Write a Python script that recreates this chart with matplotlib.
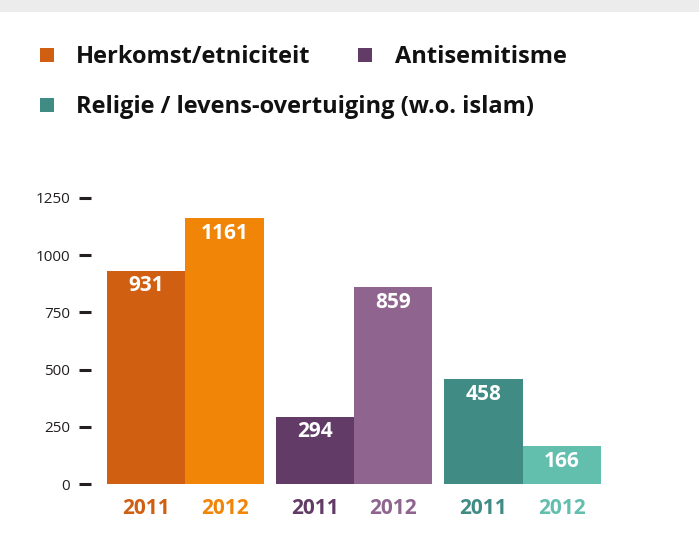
import matplotlib
matplotlib.use("Agg")
import matplotlib.pyplot as plt
from matplotlib.patches import Rectangle

categories = ["Herkomst/etniciteit", "Antisemitisme", "Religie / levens-overtuiging (w.o. islam)"]
years = ["2011", "2012"]
values_2011 = [931, 294, 458]
values_2012 = [1161, 859, 166]
yticks = [0, 250, 500, 750, 1000, 1250]

colors_2011 = ["#D05F12", "#633B67", "#408B84"]
colors_2012 = ["#F08508", "#8F6590", "#62BFAE"]

FONT = "Open Sans"
W, H = 699, 536
fig = plt.figure(figsize=(W / 100, H / 100), dpi=100)
fig.patch.set_facecolor("white")

# top grey band
fig.add_artist(Rectangle((0, 1 - 12 / H), 1, 12 / H, transform=fig.transFigure,
                         facecolor="#ececec", edgecolor="none"))

ax = fig.add_axes([107 / W, (H - 484) / H, (601 - 107) / W, (484 - 198) / H])

group_step = 2.15
xs, vals, cols, labels = [], [], [], []
for g in range(len(categories)):
    for j, (v, c) in enumerate([(values_2011[g], colors_2011[g]), (values_2012[g], colors_2012[g])]):
        xs.append(g * group_step + j)
        vals.append(v)
        cols.append(c)
        labels.append(years[j])

ax.bar(xs, vals, width=1.0, color=cols, edgecolor="none")
for x, v in zip(xs, vals):
    ax.annotate(str(v), (x, v), xytext=(0, -15), textcoords="offset pixels",
                ha="center", va="center", color="white", fontsize=15,
                fontweight="bold", family=FONT)

ax.set_xlim(-0.5, 2 * group_step + 1.5)
ax.set_ylim(0, 1250)
for s in ["top", "right", "bottom"]:
    ax.spines[s].set_visible(False)
ax.spines["left"].set_position(("outward", 11.5))
ax.spines["left"].set_visible(False)
ax.set_yticks(yticks)
ax.set_yticklabels([str(t) for t in yticks], family=FONT, fontsize=11, color="#231f20")
ax.tick_params(axis="y", length=8.6, width=2.2, color="#231f20", pad=6.5)

ax.set_xticks(xs)
ax.set_xticklabels(labels, family=FONT, fontsize=15, fontweight="bold")
for lbl, c in zip(ax.get_xticklabels(), cols):
    lbl.set_color(c)
ax.tick_params(axis="x", length=0, pad=10)
ax.set_facecolor("none")

# legend
leg = [(40, 55, colors_2011[0], categories[0], 36),
       (358, 55, colors_2011[1], categories[1], 37),
       (40, 105, colors_2011[2], categories[2], 36)]
for px, py, c, t, dx in leg:
    fig.add_artist(Rectangle((px / W, 1 - (py + 7) / H), 14 / W, 14 / H,
                             transform=fig.transFigure, facecolor=c, edgecolor="none"))
    fig.text((px + dx) / W, 1 - (py + 8) / H, t, ha="left", va="baseline", fontsize=17,
             fontweight="bold", family=FONT, color="#111111")

fig.savefig("out.png", dpi=100)
